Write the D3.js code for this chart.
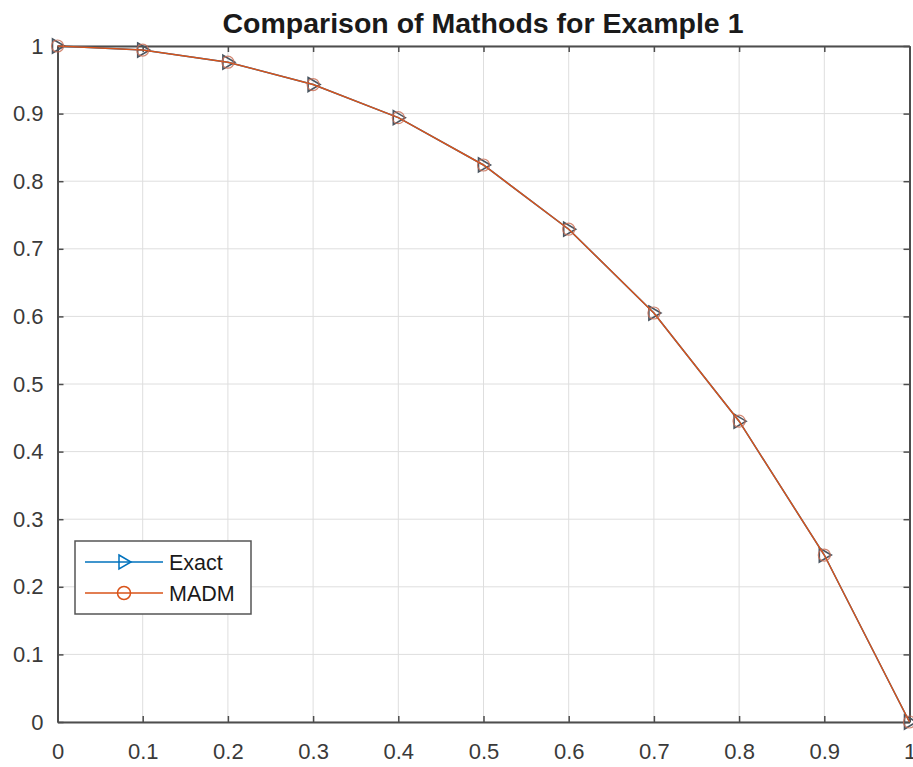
<!DOCTYPE html>
<html><head><meta charset="utf-8">
<script src="https://cdn.jsdelivr.net/npm/d3@7"></script>
<style>body{margin:0;background:#fff;} svg{display:block;font-family:"Liberation Sans",Arial,sans-serif;}</style>
</head><body><svg id="c" width="913" height="767"></svg>
<script>
const xValues = [0, 0.1, 0.2, 0.3, 0.4, 0.5, 0.6, 0.7, 0.8, 0.9, 1];
const exactValues = [1, 0.994, 0.976, 0.943, 0.894, 0.824, 0.729, 0.605, 0.445, 0.247, 0];
const madmValues = [1, 0.994, 0.976, 0.943, 0.894, 0.824, 0.729, 0.605, 0.445, 0.247, 0];
const xTicks = [0, 0.1, 0.2, 0.3, 0.4, 0.5, 0.6, 0.7, 0.8, 0.9, 1];
const yTicks = [0, 0.1, 0.2, 0.3, 0.4, 0.5, 0.6, 0.7, 0.8, 0.9, 1];
const seriesNames = ["Exact", "MADM"];
const titleText = "Comparison of Mathods for Example 1";

const svg = d3.select("#c");
const L = 57.5, R = 909.5, T = 46, B = 722;
const x = d3.scaleLinear().domain([0, 1]).range([L, R]);
const y = d3.scaleLinear().domain([0, 1]).range([B, T]);
const axisCol = "#4d4d4d", gridCol = "#dedede";
const blue = "#0072BD", orange = "#D95319";

// grid
svg.append("g").selectAll("line").data(xTicks).join("line")
  .attr("x1", d => x(d)).attr("x2", d => x(d)).attr("y1", T).attr("y2", B)
  .attr("stroke", gridCol).attr("stroke-width", 1);
svg.append("g").selectAll("line").data(yTicks).join("line")
  .attr("y1", d => y(d)).attr("y2", d => y(d)).attr("x1", L).attr("x2", R)
  .attr("stroke", gridCol).attr("stroke-width", 1);

// axes
const fmt = d => d === 0 ? "0" : d === 1 ? "1" : d3.format(".1f")(d);
const gx = svg.append("g").attr("transform", `translate(0,${B})`)
  .call(d3.axisBottom(x).tickValues(xTicks).tickFormat(fmt).tickSizeInner(-6).tickSizeOuter(0).tickPadding(21));
const gy = svg.append("g").attr("transform", `translate(${L},0)`)
  .call(d3.axisLeft(y).tickValues(yTicks).tickFormat(fmt).tickSizeInner(-6).tickSizeOuter(0).tickPadding(14));
const gx2 = svg.append("g").attr("transform", `translate(0,${T})`)
  .call(d3.axisTop(x).tickValues(xTicks).tickFormat("").tickSizeInner(-6).tickSizeOuter(0));
const gy2 = svg.append("g").attr("transform", `translate(${R},0)`)
  .call(d3.axisRight(y).tickValues(yTicks).tickFormat("").tickSizeInner(-6).tickSizeOuter(0));
[gx, gy, gx2, gy2].forEach(g => {
  g.select(".domain").attr("stroke", axisCol).attr("stroke-width", 2);
  g.selectAll(".tick line").attr("stroke", axisCol).attr("stroke-width", 1.5);
  g.selectAll("text").attr("fill", "#3a3a3a").style("font-size", "22px").style("font-family", "Liberation Sans, Arial, sans-serif");
});

// title
svg.append("text").attr("x", 483).attr("y", 33).attr("text-anchor", "middle")
  .style("font-weight", "bold").style("font-size", "28.5px").attr("fill", "#1a1a1a").text(titleText);

const line = d3.line().x((d, i) => x(xValues[i])).y(d => y(d));
const triPath = "M-5,-7L7,0L-5,7Z";

// Exact
svg.append("path").datum(exactValues).attr("d", line).attr("fill", "none").attr("stroke", blue).attr("stroke-width", 1.5);
svg.append("g").selectAll("path").data(exactValues).join("path")
  .attr("transform", (d, i) => `translate(${x(xValues[i])},${y(d)})`)
  .attr("d", triPath).attr("fill", "none").attr("stroke", "#4a5560").attr("stroke-width", 1.6);
// MADM
svg.append("path").datum(madmValues).attr("d", line).attr("fill", "none").attr("stroke", orange).attr("stroke-width", 1.5);
svg.append("g").selectAll("circle").data(madmValues).join("circle")
  .attr("cx", (d, i) => x(xValues[i])).attr("cy", d => y(d)).attr("r", 6)
  .attr("fill", "none").attr("stroke", "#c86a50").attr("stroke-width", 1.2).attr("opacity", 0.8);

// legend
const lg = svg.append("g");
lg.append("rect").attr("x", 75).attr("y", 541).attr("width", 176).attr("height", 73)
  .attr("fill", "#fff").attr("stroke", "#555").attr("stroke-width", 1.5);
const rows = [{name: seriesNames[0], c: blue, ty: 562}, {name: seriesNames[1], c: orange, ty: 593}];
rows.forEach((r, i) => {
  lg.append("line").attr("x1", 85).attr("x2", 163).attr("y1", r.ty).attr("y2", r.ty).attr("stroke", r.c).attr("stroke-width", 1.5);
  if (i === 0) lg.append("path").attr("transform", `translate(124,${r.ty})`).attr("d", triPath).attr("fill", "none").attr("stroke", r.c).attr("stroke-width", 1.5);
  else lg.append("circle").attr("cx", 124).attr("cy", r.ty).attr("r", 6.5).attr("fill", "none").attr("stroke", r.c).attr("stroke-width", 1.5);
  lg.append("text").attr("x", 169).attr("y", r.ty + 8).style("font-size", "21.5px").attr("fill", "#1a1a1a").text(r.name);
});
</script></body></html>
